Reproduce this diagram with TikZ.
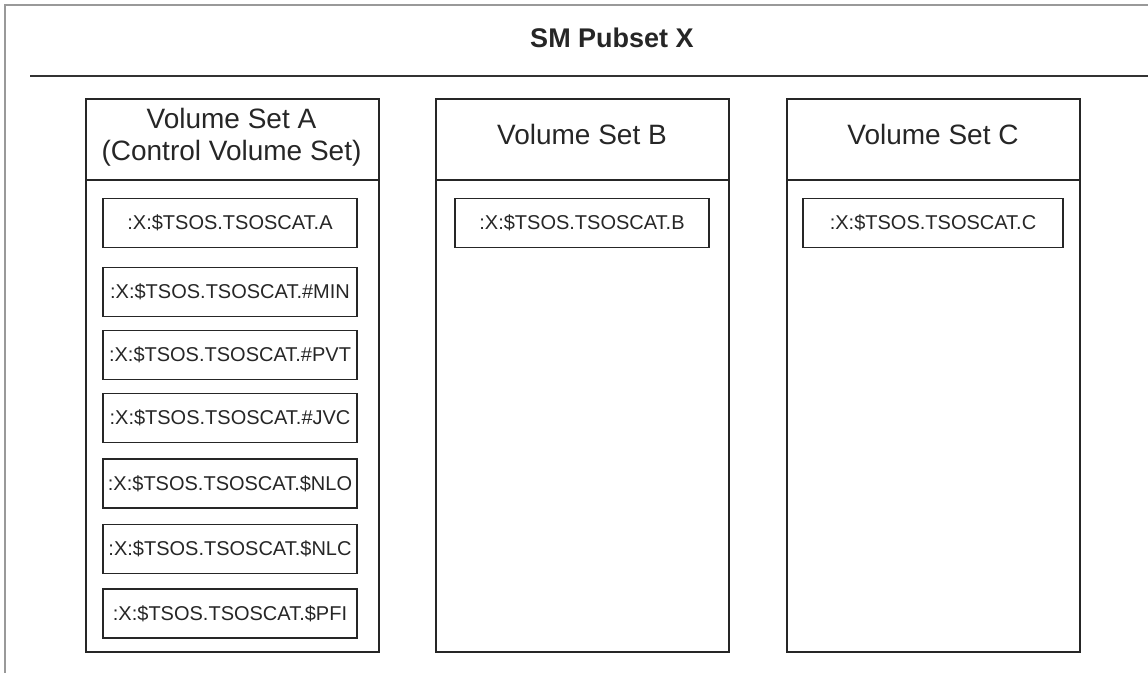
\documentclass[tikz,border=0pt]{standalone}
\usepackage{fontspec}
\setmainfont{Liberation Sans}

\tikzset{
  setbox/.style={draw=black!85, line width=1.6pt, inner sep=0pt, minimum width=293pt, minimum height=553pt, anchor=north west},
  headtext/.style={align=center, font=\fontsize{28}{32}\selectfont, text=black!85},
  catbox/.style={draw=black!85, line width=1.6pt, inner sep=0pt, minimum width=254pt, minimum height=49pt, font=\fontsize{20}{24}\selectfont, text=black!85},
}

\begin{document}
\begin{tikzpicture}[x=1pt,y=-1pt]
  \useasboundingbox (0,0) rectangle (1148,673);
  % outer frame and title
  \draw[black!40, line width=1.5pt] (1148,5) -- (5,5) -- (5,673);
  \node[font=\bfseries\fontsize{27}{32}\selectfont, text=black!85] (title) at (612,38) {SM Pubset X};
  \draw[black!80, line width=1.8pt] (30,76) -- (1148,76);

  % volume sets
  \node[setbox] (setA) at (85,98) {};
  \node[setbox] (setB) at (435,98) {};
  \node[setbox] (setC) at (786,98) {};
  \foreach \s in {A,B,C}
    \draw[black!85, line width=1.6pt] (set\s.west |- 0,180) -- (set\s.east |- 0,180);

  \node[headtext] (headA) at (231.5,137) {Volume Set A\\(Control Volume Set)};
  \node[headtext] (headB) at (582,134) {Volume Set B};
  \node[headtext] (headC) at (933,134) {Volume Set C};

  % catalog entries
  \foreach \suf/\yc [count=\i] in {A/223, \#MIN/292, \#PVT/355, \#JVC/418, \$NLO/483.5, \$NLC/549, \$PFI/613.5}
    \node[catbox] (catA\i) at (230,\yc) {:X:\$TSOS.TSOSCAT.\suf};
  \node[catbox] (catB) at (582,223) {:X:\$TSOS.TSOSCAT.B};
  \node[catbox, minimum width=260pt] (catC) at (933,223) {:X:\$TSOS.TSOSCAT.C};
\end{tikzpicture}
\end{document}
